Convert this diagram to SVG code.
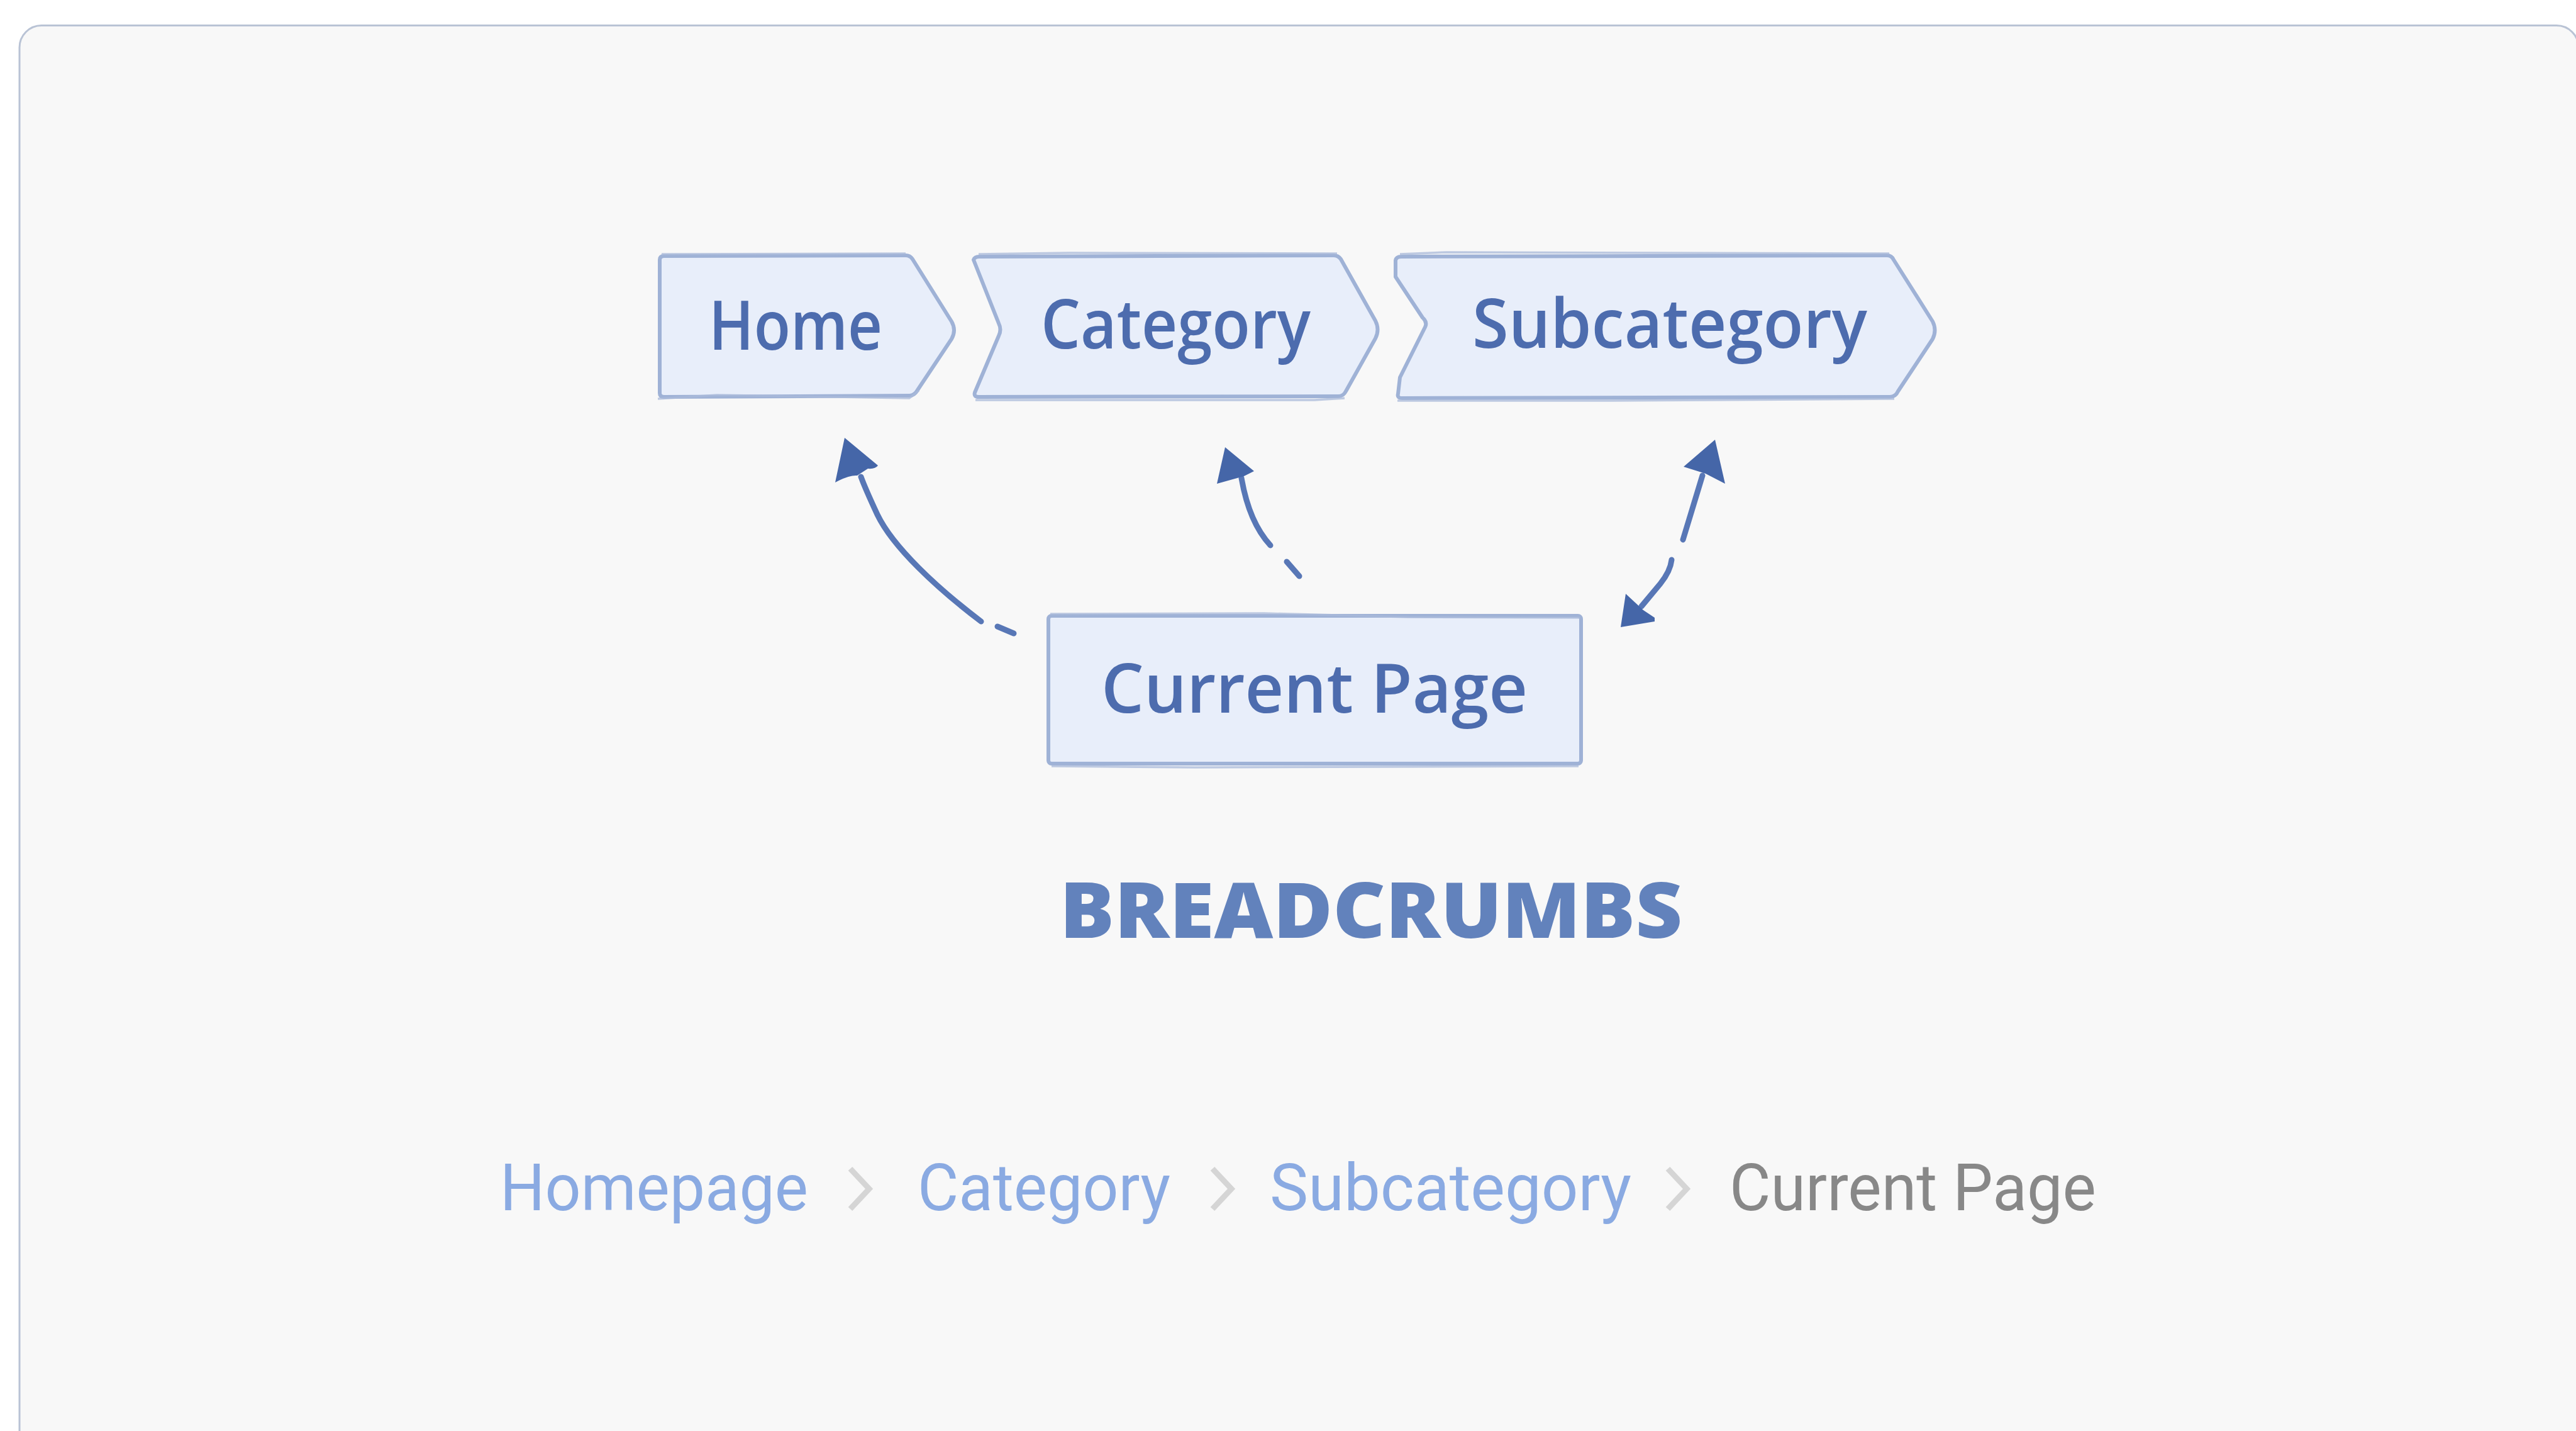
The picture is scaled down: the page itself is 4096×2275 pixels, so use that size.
<svg xmlns="http://www.w3.org/2000/svg" width="4096" height="2275" viewBox="0 0 4096 2275">
  <defs>
    <style>
      .crumb { fill: #e8eefa; stroke: #9fb2d6; stroke-width: 6; stroke-linejoin: round; }
      .sketch { fill: none; stroke: #a9bad9; stroke-width: 3.5; stroke-linejoin: round; opacity: 0.75; }
      .label { font-family: "Open Sans", "Noto Sans", sans-serif; font-weight: 600; font-size: 108px; fill: #4d6cae; }
      .title { font-family: "Open Sans", "Noto Sans", sans-serif; font-weight: 800; font-size: 122px; fill: #6282bc; }
      .link { font-family: Roboto, "Liberation Sans", sans-serif; font-size: 103px; fill: #8aaae2; }
      .here { font-family: Roboto, "Liberation Sans", sans-serif; font-size: 103px; fill: #888888; }
      .sep { fill: none; stroke: #d5d5d5; stroke-width: 9; stroke-linecap: butt; stroke-linejoin: miter; }
      .wire { fill: none; stroke: #5877b6; stroke-width: 9; stroke-linecap: round; }
      .head { fill: #4566a8; }
    </style>
  </defs>

  <!-- page and card -->
  <rect x="0" y="0" width="4096" height="2275" fill="#ffffff"/>
  <rect id="card" x="31" y="40.5" width="4069" height="2400" rx="35" fill="#f8f8f8" stroke="#b9c3d5" stroke-width="3"/>

  <!-- sketched trail of crumbs -->
  <g id="node-home">
    <path class="crumb" d="M1049,413 Q1049,407 1056,407 L1440,406 Q1447,406 1451,412 L1513,511 Q1521,525 1513,539 L1459,620 Q1454,629 1446,629 L1056,631 Q1049,631 1049,625 Z"/>
    <path class="sketch" d="M1052,404 L1440,403 M1046,634 L1140,628 L1446,633 L1461,621"/>
    <text class="label" x="1127" y="556" textLength="276" lengthAdjust="spacingAndGlyphs">Home</text>
  </g>

  <g id="node-category">
    <path class="crumb" d="M1548,413 Q1550,408 1557,408 L2120,406 Q2128,406 2132,412 L2187,510 Q2194,524 2187,538 L2140,622 Q2136,630 2128,630 L1556,631 Q1548,631 1550,624 L1588,534 Q1593,524 1588,514 Z"/>
    <path class="sketch" d="M1556,404 L1700,402 L2126,403 M1551,636 L2090,636 L2138,633"/>
    <text class="label" x="1655" y="554" textLength="429" lengthAdjust="spacingAndGlyphs">Category</text>
  </g>

  <g id="node-subcategory">
    <path class="crumb" d="M2219,414 Q2220,408 2228,408 L3000,406 Q3008,406 3011,413 L3073,511 Q3080,525 3073,539 L3018,622 Q3014,631 3005,631 L2230,633 Q2221,633 2223,626 L2226,600 L2266,520 Q2270,512 2262,505 L2219,440 Z"/>
    <path class="sketch" d="M2226,404 L2300,401 L3004,403 M2222,637 L2560,637 L3012,634"/>
    <text class="label" x="2341" y="553" textLength="628" lengthAdjust="spacingAndGlyphs">Subcategory</text>
  </g>

  <g id="node-current">
    <rect class="crumb" x="1667" y="979" width="847" height="235" rx="5"/>
    <path class="sketch" d="M1670,976 L2010,975 L2240,981 L2512,982 M1672,1218 L1900,1220 L2510,1218"/>
    <text class="label" x="1751" y="1133" textLength="678" lengthAdjust="spacingAndGlyphs">Current Page</text>
  </g>

  <!-- links from the current page back up the trail -->
  <g id="connectors">
    <!-- to Home -->
    <path class="wire" d="M1560,988 C1490,935 1420,870 1395,818 C1382,790 1374,772 1369,758"/>
    <path class="wire" d="M1586,996 L1612,1007"/>
    <path class="head" d="M1343,696 L1396,740 Q1392,746 1380,745 L1363,756 Q1350,755 1328,767 Z"/>
    <!-- to Category -->
    <path class="wire" d="M2020,867 Q1986,830 1974,760" stroke="#6382bf"/>
    <path class="wire" d="M2046,893 L2066,916" stroke="#6382bf" stroke-width="11"/>
    <path class="head" d="M1948,711 L1994,749 L1978,757 L1935,769 Z" fill="#5a7abb"/>
    <!-- to and from Subcategory -->
    <path class="wire" d="M2707,756 L2676,858" stroke="#6e8bc4"/>
    <path class="head" d="M2727,699 L2743,769 L2712,753 L2677,742 Z"/>
    <path class="wire" d="M2658,890 Q2656,908 2640,928 L2610,964"/>
    <path class="head" d="M2577,997 L2585,944 L2613,970 L2631,982 L2631,988 Z" fill="#5b78b6"/>
  </g>

  <!-- heading -->
  <text id="heading" class="title" x="1685" y="1491" textLength="990" lengthAdjust="spacingAndGlyphs">BREADCRUMBS</text>

  <!-- rendered breadcrumb bar -->
  <g id="breadcrumb-bar">
    <text class="link" x="795" y="1924" textLength="490" lengthAdjust="spacingAndGlyphs">Homepage</text>
    <polyline class="sep" points="1352,1858 1382,1890 1352,1922"/>
    <text class="link" x="1459" y="1924" textLength="402" lengthAdjust="spacingAndGlyphs">Category</text>
    <polyline class="sep" points="1928,1858 1958,1890 1928,1922"/>
    <text class="link" x="2019" y="1924" textLength="575" lengthAdjust="spacingAndGlyphs">Subcategory</text>
    <polyline class="sep" points="2652,1858 2682,1890 2652,1922"/>
    <text class="here" x="2750" y="1924" textLength="583" lengthAdjust="spacingAndGlyphs">Current Page</text>
  </g>
</svg>
